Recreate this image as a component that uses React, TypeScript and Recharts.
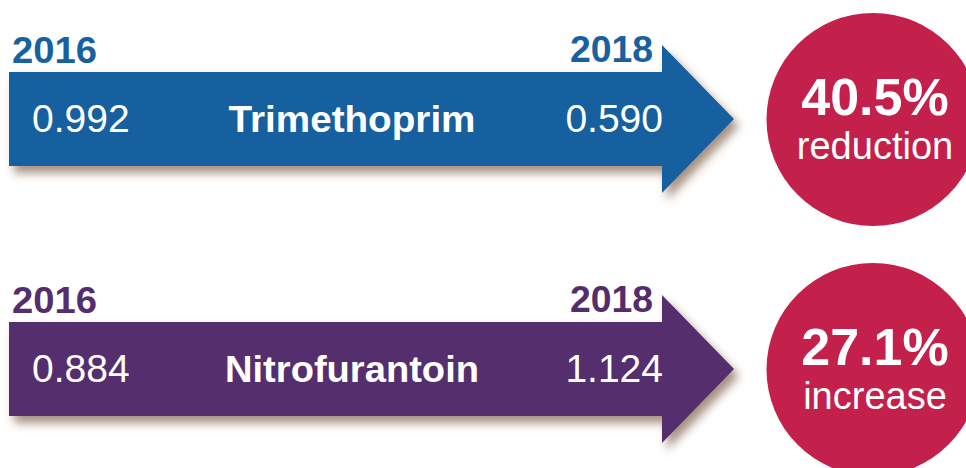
import React from 'react';
import { ScatterChart, Scatter, XAxis, YAxis } from 'recharts';

// ---- Data ----
const drugs: string[] = ['Trimethoprim', 'Nitrofurantoin'];
const startYear = '2016';
const endYear = '2018';
const values2016: string[] = ['0.992', '0.884'];
const values2018: string[] = ['0.590', '1.124'];
const pctChange: string[] = ['40.5%', '27.1%'];
const changeLabels: string[] = ['reduction', 'increase'];
const arrowColors: string[] = ['#1761A0', '#542D6D'];
const circleColor = '#C3204B';

const data = drugs.map((d, i) => ({
  row: i,
  drug: d,
  v2016: values2016[i],
  v2018: values2018[i],
  pct: pctChange[i],
  change: changeLabels[i],
  color: arrowColors[i],
}));

const FONT = '"Liberation Sans", Arial, Helvetica, sans-serif';

const RowShape = (props: any) => {
  const { cy, payload } = props;
  if (cy == null || !payload) return null;
  const c = payload.color;
  const id = `shadow-${payload.row}`;
  const bodyL = 9;
  const bodyR = 662;
  const tip = 734;
  const bh = 47;
  const hh = 74;
  const path = `M${bodyL},${cy - bh} L${bodyR},${cy - bh} L${bodyR},${cy - hh} L${tip},${cy} L${bodyR},${cy + hh} L${bodyR},${cy + bh} L${bodyL},${cy + bh} Z`;
  const circX = 873;
  const circY = cy + 0.5;
  const nameLen = payload.drug.length >= 14 ? 254 : 247;
  return (
    <g>
      <defs>
        <filter id={id} x="-10%" y="-30%" width="130%" height="180%">
          <feDropShadow dx="5" dy="7" stdDeviation="5" floodColor="#6b4a2e" floodOpacity="0.6" />
        </filter>
      </defs>
      <path d={path} fill={c} filter={`url(#${id})`} />
      <text x={12} y={cy - 56} fill={c} fontFamily={FONT} fontWeight="bold" fontSize={37} textLength={85} lengthAdjust="spacingAndGlyphs">
        {startYear}
      </text>
      <text x={570} y={cy - 57} fill={c} fontFamily={FONT} fontWeight="bold" fontSize={37} textLength={83} lengthAdjust="spacingAndGlyphs">
        {endYear}
      </text>
      <text x={32} y={cy + 13} fill="#ffffff" fontFamily={FONT} fontSize={39}>
        {payload.v2016}
      </text>
      <text x={352 - nameLen / 2} y={cy + 13} fill="#ffffff" fontFamily={FONT} fontWeight="bold" fontSize={37} textLength={nameLen} lengthAdjust="spacingAndGlyphs">
        {payload.drug}
      </text>
      <text x={663} y={cy + 13} fill="#ffffff" fontFamily={FONT} fontSize={39} textAnchor="end">
        {payload.v2018}
      </text>
      <circle cx={circX} cy={circY} r={106.5} fill={circleColor} />
      <text x={875} y={circY - 5} fill="#ffffff" fontFamily={FONT} fontWeight="bold" fontSize={52} textAnchor="middle">
        {payload.pct}
      </text>
      <text x={875} y={circY + 39} fill="#ffffff" fontFamily={FONT} fontSize={38} textAnchor="middle">
        {payload.change}
      </text>
    </g>
  );
};

export default function App() {
  return (
    <div style={{ position: 'absolute', left: 0, top: 0, width: 966, height: 468, background: '#ffffff' }}>
      <ScatterChart width={966} height={468} margin={{ top: 0, right: 0, bottom: 0, left: 0 }}>
        <XAxis type="number" dataKey="row" domain={[0, 1]} hide allowDataOverflow />
        <YAxis type="number" dataKey="row" domain={[-0.476, 1.396]} reversed hide allowDataOverflow />
        <Scatter data={data} isAnimationActive={false} shape={(p: any) => <RowShape {...p} />} />
      </ScatterChart>
    </div>
  );
}
